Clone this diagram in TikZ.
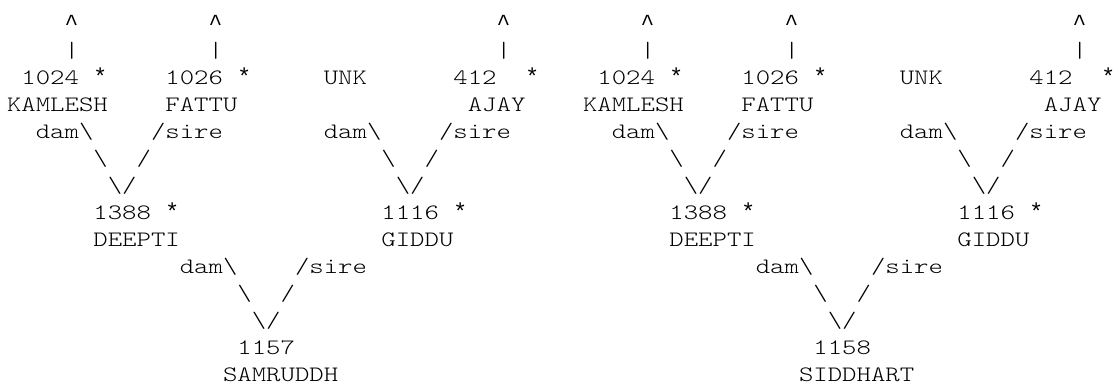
\documentclass[tikz,border=0pt]{standalone}
\usepackage{fontspec}
\newfontfamily\cour[FakeStretch=1.247]{lmmonolt10-regular.otf}
\newfontfamily\lmono{Liberation Mono}
\tikzset{
  tok/.style={anchor=base west, inner sep=0pt, outer sep=0pt, text=black,
    font=\cour\fontsize{22}{27}\selectfont},
  sym/.style={tok, font=\lmono\fontsize{23}{27}\selectfont}
}
% place token: name, column, line, text
\newcommand\tk[4]{\node[tok] (#1) at ({7+(#2)*14.4},{6+(14-#3)*27}) {#4};}
\newcommand\sy[4]{\node[sym] (#1) at ({7+(#2)*14.4},{6+(14-#3)*27}) {#4};}
\newcommand\bs{\textbackslash}
\newcommand\pedigree[4]{%
  \sy{#1upA}{#2+4}{1}{\textasciicircum}
  \sy{#1upB}{#2+14}{1}{\textasciicircum}
  \sy{#1upC}{#2+34}{1}{\textasciicircum}
  \tk{#1barA}{#2+4}{2}{|}
  \tk{#1barB}{#2+14}{2}{|}
  \tk{#1barC}{#2+34}{2}{|}
  \tk{#1idA}{#2+1}{3}{1024}
  \sy{#1stA}{#2+6}{3}{*}
  \tk{#1idB}{#2+11}{3}{1026}
  \sy{#1stB}{#2+16}{3}{*}
  \tk{#1unk}{#2+22}{3}{UNK}
  \tk{#1idC}{#2+31}{3}{412}
  \sy{#1stC}{#2+36}{3}{*}
  \tk{#1nmA}{#2+0}{4}{KAMLESH}
  \tk{#1nmB}{#2+11}{4}{FATTU}
  \tk{#1nmC}{#2+32}{4}{AJAY}
  \tk{#1damA}{#2+2}{5}{dam\bs}
  \tk{#1sireA}{#2+10}{5}{/sire}
  \tk{#1damB}{#2+22}{5}{dam\bs}
  \tk{#1sireB}{#2+30}{5}{/sire}
  \tk{#1lA}{#2+6}{6}{\bs}
  \tk{#1rA}{#2+9}{6}{/}
  \tk{#1lB}{#2+26}{6}{\bs}
  \tk{#1rB}{#2+29}{6}{/}
  \tk{#1vA}{#2+7}{7}{\bs/}
  \tk{#1vB}{#2+27}{7}{\bs/}
  \tk{#1idD}{#2+6}{8}{1388}
  \sy{#1stD}{#2+11}{8}{*}
  \tk{#1idE}{#2+26}{8}{1116}
  \sy{#1stE}{#2+31}{8}{*}
  \tk{#1nmD}{#2+6}{9}{DEEPTI}
  \tk{#1nmE}{#2+26}{9}{GIDDU}
  \tk{#1damC}{#2+12}{10}{dam\bs}
  \tk{#1sireC}{#2+20}{10}{/sire}
  \tk{#1lC}{#2+16}{11}{\bs}
  \tk{#1rC}{#2+19}{11}{/}
  \tk{#1vC}{#2+17}{12}{\bs/}
  \tk{#1idF}{#2+16}{13}{#3}
  \tk{#1nmF}{#2+15}{14}{#4}
}
\begin{document}
\begin{tikzpicture}[x=1pt,y=1pt]
  \fill[white] (0,0) rectangle (1120,388);
  \useasboundingbox (0,0) rectangle (1120,388);
  \pedigree{a}{0}{1157}{SAMRUDDH}
  \pedigree{b}{40}{1158}{SIDDHART}
\end{tikzpicture}
\end{document}
